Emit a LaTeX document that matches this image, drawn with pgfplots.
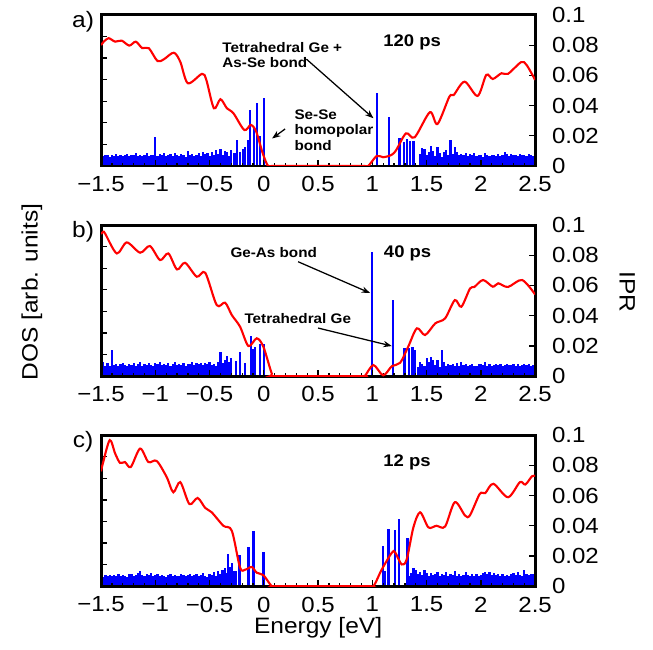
\documentclass[border=0pt]{standalone}
\usepackage{fontspec}
\setmainfont[FakeStretch=1.1]{Liberation Sans}
\usepackage{pgfplots}
\pgfplotsset{compat=1.18}
\usetikzlibrary{arrows.meta}
\newcommand\annfont{\fontsize{6.6}{7.4}\selectfont\bfseries}
\newcommand\psfont{\fontsize{8}{9}\selectfont\bfseries}
\newcommand\labfont{\fontsize{10.6}{12}\selectfont}
\tikzset{ann/.style={-{Stealth[length=4pt,width=3pt]},line width=0.6pt}}
\pgfplotsset{
  common/.style={width=206.6pt,height=71.9pt,scale only axis,anchor=north west,
    xmin=-1.5,xmax=2.5,ymin=0,ymax=100,tick align=inside,
    major tick length=2.8pt,minor tick length=1.5pt,
    tick style={black,line width=0.6pt},
    ticklabel style={font=\fontsize{10.4}{12}\selectfont}},
  iprax/.style={common,axis line style={draw=none},xtick=\empty,
    ytick={0,20,40,60,80,100},yticklabels={0,0.02,0.04,0.06,0.08,0.1},
    ytick pos=right,yticklabel pos=right,
    yticklabel style={xshift=4.5pt}},
  dosax/.style={common,axis line style={line width=1.4pt},
    xtick={-1.5,-1,-0.5,0,0.5,1,1.5,2,2.5},
    xticklabels={−1.5,−1,−0.5,0,0.5,1,1.5,2,2.5},
    minor x tick num=4,xtick pos=bottom,
    xticklabel style={yshift=-1.5pt},
    ytick={14.2857,28.5714,42.8571,57.1429,71.4286,85.7143},yticklabels={},
    ytick pos=left,clip mode=individual},
  bars/.style={blue,ycomb,no marks,line width=1.05pt},
  dos/.style={red,no marks,smooth,line width=1pt}
}
\begin{document}
\begin{tikzpicture}
\useasboundingbox (0,0) rectangle (310.8pt,-308.9pt);
% ---------------- panel a ----------------
\begin{axis}[iprax,at={(48.1pt,-7.1pt)}]
\addplot[bars] coordinates {
(-1.50,7.2)(-1.48,6.8)(-1.46,7.5)(-1.44,7.0)(-1.42,6.2)(-1.40,7.4)(-1.38,6.9)(-1.36,7.8)(-1.34,6.5)(-1.32,7.1)
(-1.30,6.6)(-1.28,7.3)(-1.26,8.0)(-1.24,6.4)(-1.22,7.2)(-1.20,7.0)(-1.18,8.3)(-1.16,6.8)(-1.14,7.4)(-1.12,6.9)
(-1.10,7.6)(-1.08,8.6)(-1.06,6.6)(-1.04,7.3)(-1.02,7.0)(-1.00,19.4)(-0.98,6.5)(-0.96,7.7)(-0.94,7.1)(-0.92,8.4)
(-0.90,6.7)(-0.88,7.5)(-0.86,8.1)(-0.84,6.3)(-0.82,8.8)(-0.80,7.2)(-0.78,6.6)(-0.76,8.0)(-0.74,7.4)(-0.72,6.1)
(-0.70,9.7)(-0.68,7.0)(-0.66,8.2)(-0.64,6.8)(-0.62,7.6)(-0.60,8.9)(-0.58,6.4)(-0.56,9.3)(-0.54,7.8)(-0.52,8.5)
(-0.50,6.9)(-0.48,9.0)(-0.46,7.4)(-0.44,10.6)(-0.42,8.2)(-0.40,11.0)(-0.38,7.5)(-0.36,10.2)(-0.34,9.4)(-0.32,6.8)
(-0.30,10.5)(-0.27,8.5)(-0.246,17.2)(-0.22,9.5)(-0.19,11.5)(-0.17,12.8)(-0.145,17.5)(-0.124,37.0)(-0.094,26.0)
(-0.063,41.5)(-0.035,20.0)(-0.002,44.8)
(1.04,48.2)(1.154,32.6)(1.25,18.3)(1.29,15.9)(1.32,18.0)(1.35,16.5)(1.38,16.5)
(1.44,8.0)(1.46,12.0)(1.48,11.0)(1.50,7.0)(1.52,9.5)(1.54,13.0)(1.56,10.0)(1.58,6.5)(1.60,12.6)(1.62,8.5)
(1.64,6.0)(1.66,9.0)(1.68,10.5)(1.70,7.5)(1.72,17.0)(1.74,8.0)(1.76,12.6)(1.78,9.0)(1.80,7.5)(1.82,8.2)
(1.84,7.0)(1.86,8.8)(1.88,6.5)(1.90,7.8)(1.92,7.2)(1.94,8.4)(1.96,6.6)(1.98,7.5)(2.00,7.0)(2.02,6.2)
(2.04,8.3)(2.06,7.1)(2.08,6.8)(2.10,7.6)(2.12,7.0)(2.14,6.4)(2.16,7.9)(2.18,6.9)(2.20,7.3)(2.22,9.0)
(2.24,7.7)(2.26,6.6)(2.28,8.0)(2.30,7.2)(2.32,7.5)(2.34,6.7)(2.36,7.8)(2.38,7.0)(2.40,7.4)(2.42,6.9)
(2.44,8.1)(2.46,7.2)(2.48,6.8)(2.50,7.0)
};
\end{axis}
\begin{axis}[dosax,at={(48.1pt,-7.1pt)}]
\addplot[dos] coordinates {
(-1.5,80.0)(-1.475,82.3)(-1.43,84.6)(-1.37,82.3)(-1.31,83.0)(-1.24,79.7)(-1.18,82.3)(-1.12,78.0)(-1.06,78.0)
(-0.98,69.5)(-0.92,70.7)(-0.83,75.0)(-0.77,69.0)(-0.70,54.8)(-0.57,61.0)(-0.53,57.0)(-0.46,38.2)(-0.40,44.2)
(-0.34,38.2)(-0.28,34.9)(-0.18,23.8)(-0.12,27.2)(-0.07,22.7)(-0.01,8.4)(0.04,0)(0.1,0)(0.9,0)(0.96,0)
(1.04,6.6)(1.10,5.8)(1.176,7.3)(1.22,10.6)(1.31,21.6)(1.39,19.0)(1.53,35.6)(1.60,27.8)(1.71,45.9)(1.75,47.0)
(1.85,55.8)(1.97,46.4)(2.05,60.3)(2.11,57.6)(2.19,61.4)(2.25,61.0)(2.37,68.7)(2.42,67.0)(2.5,57.0)
};
\node[font=\annfont,align=left,anchor=west,inner sep=0pt] at (axis cs:-0.385,73.5) {Tetrahedral Ge +\\As-Se bond};
\draw[ann] (axis cs:0.393,70.7) -- (axis cs:1.01,31.6);
\node[font=\annfont,align=left,anchor=west,inner sep=0pt] at (axis cs:0.279,23.8) {Se-Se\\homopolar\\bond};
\draw[ann] (axis cs:0.196,24.5) -- (axis cs:0.076,18.2);
\node[font=\psfont] at (axis cs:1.366,81.5) {120 ps};
\node[font=\labfont] at (axis cs:-1.666,95.4) {a)};
\end{axis}
% ---------------- panel b ----------------
\begin{axis}[iprax,at={(48.1pt,-107.1pt)}]
\addplot[bars] coordinates {
(-1.50,8.2)(-1.48,9.0)(-1.46,7.0)(-1.44,8.5)(-1.42,6.6)(-1.40,17.2)(-1.38,7.4)(-1.36,8.0)(-1.34,6.9)(-1.32,7.7)
(-1.30,8.8)(-1.28,7.2)(-1.26,6.5)(-1.24,8.3)(-1.22,7.6)(-1.20,8.9)(-1.18,7.0)(-1.16,7.9)(-1.14,9.4)(-1.12,6.8)
(-1.10,8.1)(-1.08,7.3)(-1.06,8.6)(-1.04,7.5)(-1.02,6.9)(-1.00,8.4)(-0.98,7.8)(-0.96,9.2)(-0.94,7.1)(-0.92,8.0)
(-0.90,7.4)(-0.88,8.7)(-0.86,6.7)(-0.84,7.9)(-0.82,9.5)(-0.80,7.2)(-0.78,8.3)(-0.76,7.6)(-0.74,8.9)(-0.72,7.0)
(-0.70,8.1)(-0.68,7.7)(-0.66,9.1)(-0.64,7.3)(-0.62,8.5)(-0.60,7.8)(-0.58,8.8)(-0.56,7.1)(-0.54,8.6)(-0.52,7.9)
(-0.50,9.3)(-0.48,7.4)(-0.46,8.2)(-0.44,6.5)(-0.42,9.0)(-0.40,16.0)(-0.38,8.4)(-0.36,10.5)
(-0.34,13.0)(-0.32,9.5)(-0.30,12.0)(-0.26,10.0)(-0.22,16.0)(-0.17,8.5)(-0.12,26.5)(-0.10,18.0)(-0.08,19.0)
(-0.035,21.0)(0.0,21.0)
(1.0,82.3)(1.19,50.3)(1.296,18.3)(1.34,18.3)(1.37,19.0)(1.39,17.2)
(1.42,6.0)(1.44,9.5)(1.46,8.0)(1.48,6.5)(1.50,11.7)(1.52,9.0)(1.54,12.6)(1.56,10.6)(1.58,7.5)(1.60,10.6)
(1.62,6.0)(1.64,17.2)(1.66,9.0)(1.68,6.5)(1.70,7.8)(1.72,7.2)(1.74,8.0)(1.76,6.6)(1.78,8.4)(1.80,7.0)
(1.82,9.2)(1.84,7.4)(1.86,8.0)(1.88,6.8)(1.90,7.6)(1.92,8.2)(1.94,7.0)(1.96,6.5)(1.98,7.7)(2.00,8.3)
(2.02,7.1)(2.04,9.4)(2.06,7.0)(2.08,7.8)(2.10,6.6)(2.12,7.5)(2.14,8.1)(2.16,7.2)(2.18,7.9)(2.20,6.8)
(2.22,7.4)(2.24,8.0)(2.26,7.1)(2.28,7.6)(2.30,8.3)(2.32,7.0)(2.34,7.7)(2.36,6.9)(2.38,7.4)(2.40,8.0)
(2.42,7.2)(2.44,7.8)(2.46,6.9)(2.48,7.5)(2.50,7.2)
};
\end{axis}
\begin{axis}[dosax,at={(48.1pt,-107.1pt)}]
\addplot[dos] coordinates {
(-1.5,94.0)(-1.48,95.6)(-1.46,94.0)(-1.355,81.2)(-1.263,88.5)(-1.14,81.7)(-1.05,86.1)(-0.956,76.8)(-0.88,81.2)
(-0.80,70.6)(-0.726,75.0)(-0.618,65.8)(-0.54,68.4)(-0.434,47.0)(-0.357,48.6)(-0.295,40.4)(-0.219,32.7)
(-0.142,19.9)(-0.065,25.0)(-0.004,19.4)(0.073,1.8)(0.11,0)(0.9,0)(0.93,0)(1.01,7.3)(1.10,0.5)(1.18,6.6)
(1.256,8.8)(1.33,19.4)(1.41,31.6)(1.486,27.2)(1.58,34.9)(1.67,38.2)(1.76,50.3)(1.82,45.9)(1.90,58.0)(1.94,59.0)
(2.02,63.6)(2.11,59.2)(2.16,61.4)(2.25,59.0)(2.38,63.6)(2.5,54.0)
};
\node[font=\annfont,anchor=west,inner sep=0pt] at (axis cs:-0.311,81.5) {Ge-As bond};
\draw[ann] (axis cs:0.316,75.7) -- (axis cs:0.979,55.0);
\node[font=\annfont,anchor=west,inner sep=0pt] at (axis cs:-0.182,38.4) {Tetrahedral Ge};
\draw[ann] (axis cs:0.5,31.8) -- (axis cs:1.179,19.9);
\node[font=\psfont] at (axis cs:1.325,81.5) {40 ps};
\node[font=\labfont] at (axis cs:-1.666,95.4) {b)};
\end{axis}
% ---------------- panel c ----------------
\begin{axis}[iprax,at={(48.1pt,-207.1pt)}]
\addplot[bars] coordinates {
(-1.50,7.0)(-1.48,6.4)(-1.46,7.3)(-1.44,6.8)(-1.42,7.6)(-1.40,6.5)(-1.38,7.2)(-1.36,6.9)(-1.34,8.0)(-1.32,6.6)
(-1.30,7.4)(-1.28,7.0)(-1.26,6.3)(-1.24,7.8)(-1.22,8.4)(-1.20,6.7)(-1.18,7.5)(-1.16,8.8)(-1.14,10.0)(-1.12,7.1)
(-1.10,6.6)(-1.08,7.9)(-1.06,7.2)(-1.04,8.5)(-1.02,6.8)(-1.00,7.4)(-0.98,8.0)(-0.96,6.9)(-0.94,7.6)(-0.92,7.0)
(-0.90,6.4)(-0.88,7.3)(-0.86,8.1)(-0.84,6.7)(-0.82,7.5)(-0.80,7.0)(-0.78,6.6)(-0.76,8.2)(-0.74,7.1)(-0.72,6.5)
(-0.70,7.7)(-0.68,8.0)(-0.66,6.9)(-0.64,7.4)(-0.62,8.3)(-0.60,6.8)(-0.58,7.2)(-0.56,8.6)(-0.54,7.0)(-0.52,6.4)
(-0.50,8.0)(-0.48,7.5)(-0.46,9.2)(-0.44,7.0)(-0.42,9.8)(-0.40,8.1)
(-0.38,10.5)(-0.36,12.0)(-0.345,9.0)(-0.327,21.5)(-0.31,13.0)(-0.295,15.3)(-0.28,10.0)(-0.26,10.0)(-0.225,20.7)
(-0.142,26.0)(-0.096,36.7)(-0.004,22.9)
(1.10,26.7)(1.12,10.0)(1.148,37.8)(1.21,37.1)(1.247,44.4)(1.323,32.2)
(1.34,7.0)(1.36,8.5)(1.38,12.0)(1.40,11.0)(1.42,8.0)(1.44,9.5)(1.46,7.2)(1.48,10.5)(1.50,8.6)(1.52,6.8)
(1.54,9.0)(1.56,7.5)(1.58,8.0)(1.60,9.2)(1.62,7.0)(1.64,8.3)(1.66,7.6)(1.68,9.5)(1.70,6.9)(1.72,8.1)
(1.74,7.3)(1.76,9.8)(1.78,7.0)(1.80,8.4)(1.82,6.6)(1.84,7.7)(1.86,9.3)(1.88,7.2)(1.90,6.5)(1.92,7.9)
(1.94,7.0)(1.96,8.2)(1.98,6.8)(2.00,7.5)(2.02,8.9)(2.04,9.6)(2.06,8.0)(2.08,9.2)(2.10,7.4)(2.12,8.6)
(2.14,7.1)(2.16,7.8)(2.18,6.9)(2.20,8.3)(2.22,7.0)(2.24,7.6)(2.26,6.7)(2.28,8.0)(2.30,8.8)(2.32,7.2)
(2.34,9.1)(2.36,7.5)(2.38,6.9)(2.40,11.0)(2.42,8.2)(2.44,7.4)(2.46,7.9)(2.48,8.4)(2.50,7.1)
};
\end{axis}
\begin{axis}[dosax,at={(48.1pt,-207.1pt)}]
\addplot[dos] coordinates {
(-1.5,76.0)(-1.484,81.1)(-1.42,96.7)(-1.37,87.8)(-1.325,81.6)(-1.28,82.2)(-1.226,78.9)(-1.14,91.1)(-1.064,82.2)
(-0.987,82.9)(-0.895,72.2)(-0.834,62.2)(-0.77,68.9)(-0.686,54.4)(-0.61,58.4)(-0.54,51.8)(-0.48,48.9)(-0.373,40.0)
(-0.295,36.7)(-0.219,12.2)(-0.17,11.0)(-0.111,12.7)(-0.065,8.9)(-0.004,7.3)(0.073,0)(0.12,0)(0.95,0)(1.01,0)
(1.087,11.1)(1.18,22.2)(1.21,22.4)(1.27,14.4)(1.317,17.8)(1.378,38.9)(1.44,48.9)(1.517,38.9)(1.59,40.0)(1.67,39.5)
(1.76,55.6)(1.855,46.7)(1.90,47.0)(1.99,61.1)(2.04,61.6)(2.115,67.8)(2.25,58.9)(2.36,68.9)(2.41,67.3)(2.47,72.7)(2.5,73.0)
};
\node[font=\psfont] at (axis cs:1.32,82.1) {12 ps};
\node[font=\labfont] at (axis cs:-1.666,95.4) {c)};
\end{axis}
% axis labels
\node[font=\labfont] at (151.4pt,-298.9pt) {Energy [eV]};
\node[font=\labfont,rotate=90] at (15.2pt,-139pt) {DOS [arb. units]};
\node[font=\labfont,rotate=-90] at (298.5pt,-139pt) {IPR};
\end{tikzpicture}
\end{document}
